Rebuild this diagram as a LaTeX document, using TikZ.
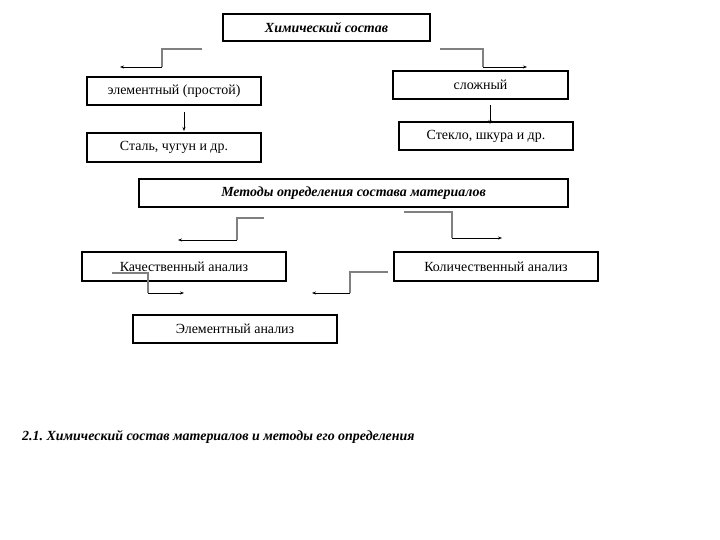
\documentclass[tikz,border=0pt]{standalone}
\usepackage{fontspec}
\setmainfont{Liberation Serif}
\usetikzlibrary{arrows.meta,positioning}
\frenchspacing

\begin{document}
\begin{tikzpicture}[x=1bp, y=-1bp,
    box/.style={draw, line width=1.5bp, inner sep=0pt, font=\fontsize{14}{16}\selectfont},
    ttl/.style={box, font=\fontsize{14}{16}\selectfont\bfseries\itshape},
    lnk/.style={draw=gray, line width=1.3bp},
    arr/.style={-{Stealth[length=4bp,width=3bp]}, line width=0.7bp}]
		\useasboundingbox (0,0) rectangle (720,540);
		% boxes
		\node[ttl, minimum width=207bp, minimum height=27bp] (chem) at (326.5,27.5) {Химический состав};
		\node[box, minimum width=174bp, minimum height=28bp] (simple) at (174,91) {элементный (простой)};
		\node[box, minimum width=175bp, minimum height=28bp] (complex) at (480.5,85) {сложный};
		\node[box, minimum width=174bp, minimum height=29bp] (steel) at (174,147.5) {Сталь, чугун и др.};
		\node[box, minimum width=174bp, minimum height=28bp] (glass) at (486,136) {Стекло, шкура и др.};
		\node[ttl, minimum width=429bp, minimum height=28bp] (methods) at (353.5,193) {Методы определения состава материалов};
		\node[box, minimum width=204bp, minimum height=29bp] (qual) at (184,266.5) {Качественный анализ};
		\node[box, minimum width=204bp, minimum height=29bp] (quant) at (496,266.5) {Количественный анализ};
		\node[box, minimum width=204bp, minimum height=28bp] (elem) at (235,329) {Элементный анализ};
		\node[anchor=west, inner sep=0pt, font=\fontsize{14}{16}\selectfont\bfseries\itshape] (cap) at (22,437) {2.1. Химический состав материалов и методы его определения};
		% free-standing connectors
		\coordinate (c1a) at (202,49); \coordinate (c1b) at (162,67); \coordinate (c1c) at (120,67);
		\coordinate (c2a) at (440,49); \coordinate (c2b) at (483,67); \coordinate (c2c) at (527,67);
		\coordinate (c3a) at (184,112); \coordinate (c3b) at (184,131);
		\coordinate (c4a) at (490,105); \coordinate (c4b) at (490,124);
		\coordinate (c5a) at (264,218); \coordinate (c5b) at (237,240); \coordinate (c5c) at (178,240);
		\coordinate (c6a) at (404,212); \coordinate (c6b) at (452,238); \coordinate (c6c) at (502,238);
		\coordinate (c7a) at (112,273); \coordinate (c7b) at (148,293); \coordinate (c7c) at (184,293);
		\coordinate (c8a) at (388,272); \coordinate (c8b) at (350,293); \coordinate (c8c) at (312,293);
		\draw[lnk] (c1a) -| (c1b); \draw[arr] (c1b) -- (c1c);
		\draw[lnk] (c2a) -| (c2b); \draw[arr] (c2b) -- (c2c);
		\draw[arr] (c3a) -- (c3b);
		\draw[arr] (c4a) -- (c4b);
		\draw[lnk] (c5a) -| (c5b); \draw[arr] (c5b) -- (c5c);
		\draw[lnk] (c6a) -| (c6b); \draw[arr] (c6b) -- (c6c);
		\draw[lnk] (c7a) -| (c7b); \draw[arr] (c7b) -- (c7c);
		\draw[lnk] (c8a) -| (c8b); \draw[arr] (c8b) -- (c8c);
	\end{tikzpicture}
\end{document}
